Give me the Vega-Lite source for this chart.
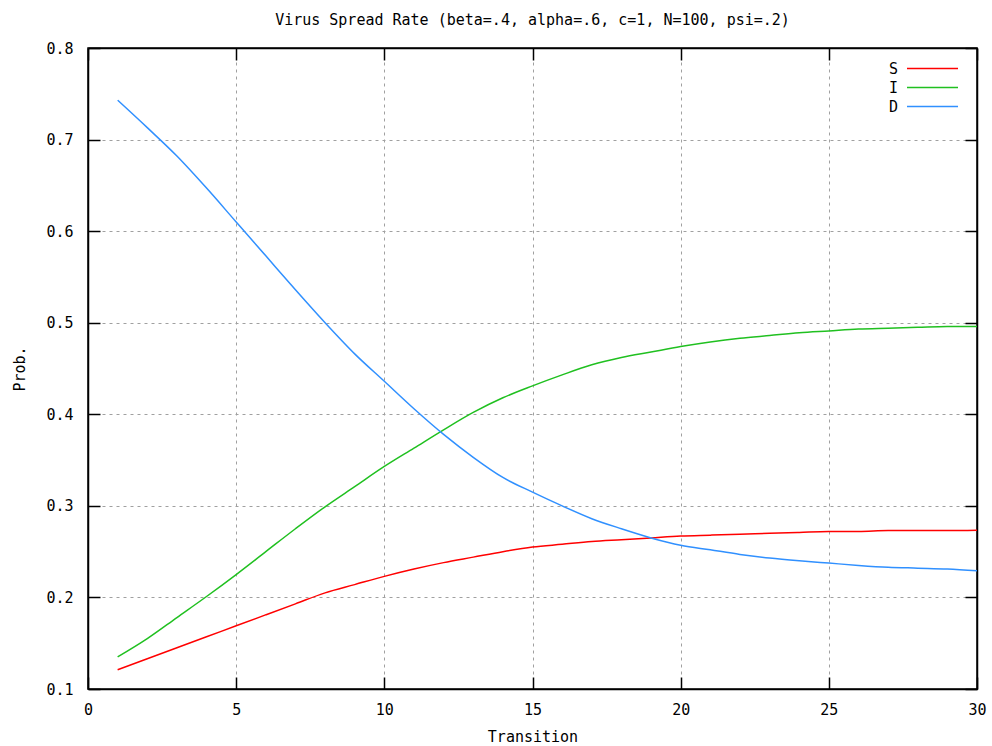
{
  "$schema": "https://vega.github.io/schema/vega-lite/v6.json",
  "width": 889,
  "height": 641,
  "autosize": {"type": "none"},
  "padding": {"left": 88, "top": 48, "right": 15, "bottom": 57},
  "background": "white",
  "title": {
    "text": "Virus Spread Rate (beta=.4, alpha=.6, c=1, N=100, psi=.2)",
    "font": "DejaVu Sans Mono",
    "fontSize": 15,
    "fontWeight": "normal",
    "color": "black",
    "anchor": "middle",
    "offset": 13
  },
  "config": {
    "view": {"stroke": "black", "strokeWidth": 1.5},
    "font": "DejaVu Sans Mono",
    "axis": {
      "labelFont": "DejaVu Sans Mono",
      "labelFontSize": 15,
      "labelColor": "black",
      "titleFont": "DejaVu Sans Mono",
      "titleFontSize": 15,
      "titleFontWeight": "normal",
      "titleColor": "black",
      "domainColor": "black",
      "domainWidth": 1.5,
      "tickColor": "black",
      "tickWidth": 1.5,
      "tickSize": -12,
      "gridColor": "#a0a0a0",
      "gridDash": [3, 4],
      "gridWidth": 1,
      "gridOpacity": 1
    }
  },
  "data": {
    "values": [
      {"t": 1, "series": "S", "p": 0.121}, {"t": 2, "series": "S", "p": 0.133}, {"t": 3, "series": "S", "p": 0.145}, {"t": 4, "series": "S", "p": 0.157}, {"t": 5, "series": "S", "p": 0.169},
      {"t": 6, "series": "S", "p": 0.181}, {"t": 7, "series": "S", "p": 0.193}, {"t": 8, "series": "S", "p": 0.205}, {"t": 9, "series": "S", "p": 0.214}, {"t": 10, "series": "S", "p": 0.223},
      {"t": 11, "series": "S", "p": 0.231}, {"t": 12, "series": "S", "p": 0.238}, {"t": 13, "series": "S", "p": 0.244}, {"t": 14, "series": "S", "p": 0.25}, {"t": 15, "series": "S", "p": 0.255},
      {"t": 16, "series": "S", "p": 0.258}, {"t": 17, "series": "S", "p": 0.261}, {"t": 18, "series": "S", "p": 0.263}, {"t": 19, "series": "S", "p": 0.265}, {"t": 20, "series": "S", "p": 0.267},
      {"t": 21, "series": "S", "p": 0.268}, {"t": 22, "series": "S", "p": 0.269}, {"t": 23, "series": "S", "p": 0.27}, {"t": 24, "series": "S", "p": 0.271}, {"t": 25, "series": "S", "p": 0.272},
      {"t": 26, "series": "S", "p": 0.272}, {"t": 27, "series": "S", "p": 0.273}, {"t": 28, "series": "S", "p": 0.273}, {"t": 29, "series": "S", "p": 0.273}, {"t": 30, "series": "S", "p": 0.2735},
      {"t": 1, "series": "I", "p": 0.135}, {"t": 2, "series": "I", "p": 0.155}, {"t": 3, "series": "I", "p": 0.178}, {"t": 4, "series": "I", "p": 0.201}, {"t": 5, "series": "I", "p": 0.225},
      {"t": 6, "series": "I", "p": 0.25}, {"t": 7, "series": "I", "p": 0.275}, {"t": 8, "series": "I", "p": 0.299}, {"t": 9, "series": "I", "p": 0.321}, {"t": 10, "series": "I", "p": 0.343},
      {"t": 11, "series": "I", "p": 0.363}, {"t": 12, "series": "I", "p": 0.383}, {"t": 13, "series": "I", "p": 0.402}, {"t": 14, "series": "I", "p": 0.418}, {"t": 15, "series": "I", "p": 0.431},
      {"t": 16, "series": "I", "p": 0.443}, {"t": 17, "series": "I", "p": 0.454}, {"t": 18, "series": "I", "p": 0.462}, {"t": 19, "series": "I", "p": 0.468}, {"t": 20, "series": "I", "p": 0.474},
      {"t": 21, "series": "I", "p": 0.479}, {"t": 22, "series": "I", "p": 0.483}, {"t": 23, "series": "I", "p": 0.486}, {"t": 24, "series": "I", "p": 0.489}, {"t": 25, "series": "I", "p": 0.491},
      {"t": 26, "series": "I", "p": 0.493}, {"t": 27, "series": "I", "p": 0.494}, {"t": 28, "series": "I", "p": 0.495}, {"t": 29, "series": "I", "p": 0.496}, {"t": 30, "series": "I", "p": 0.496},
      {"t": 1, "series": "D", "p": 0.743}, {"t": 2, "series": "D", "p": 0.713}, {"t": 3, "series": "D", "p": 0.682}, {"t": 4, "series": "D", "p": 0.647}, {"t": 5, "series": "D", "p": 0.61},
      {"t": 6, "series": "D", "p": 0.573}, {"t": 7, "series": "D", "p": 0.536}, {"t": 8, "series": "D", "p": 0.50}, {"t": 9, "series": "D", "p": 0.466}, {"t": 10, "series": "D", "p": 0.436},
      {"t": 11, "series": "D", "p": 0.406}, {"t": 12, "series": "D", "p": 0.378}, {"t": 13, "series": "D", "p": 0.353}, {"t": 14, "series": "D", "p": 0.331}, {"t": 15, "series": "D", "p": 0.315},
      {"t": 16, "series": "D", "p": 0.30}, {"t": 17, "series": "D", "p": 0.286}, {"t": 18, "series": "D", "p": 0.275}, {"t": 19, "series": "D", "p": 0.265}, {"t": 20, "series": "D", "p": 0.257},
      {"t": 21, "series": "D", "p": 0.252}, {"t": 22, "series": "D", "p": 0.247}, {"t": 23, "series": "D", "p": 0.243}, {"t": 24, "series": "D", "p": 0.24}, {"t": 25, "series": "D", "p": 0.2375},
      {"t": 26, "series": "D", "p": 0.235}, {"t": 27, "series": "D", "p": 0.233}, {"t": 28, "series": "D", "p": 0.232}, {"t": 29, "series": "D", "p": 0.231}, {"t": 30, "series": "D", "p": 0.229}
    ]
  },
  "layer": [
    {
      "mark": {"type": "line", "strokeWidth": 1.5, "interpolate": "monotone"},
      "encoding": {
        "x": {
          "field": "t", "type": "quantitative",
          "scale": {"domain": [0, 30], "nice": false, "zero": false},
          "axis": {"orient": "bottom", "title": "Transition", "values": [0, 5, 10, 15, 20, 25, 30], "labelPadding": 25, "titlePadding": 12, "grid": true, "labelFlush": false}
        },
        "y": {
          "field": "p", "type": "quantitative",
          "scale": {"domain": [0.1, 0.8], "nice": false, "zero": false},
          "axis": {"orient": "left", "title": "Prob.", "values": [0.1, 0.2, 0.3, 0.4, 0.5, 0.6, 0.7, 0.8], "format": ".1f", "labelPadding": 27, "titlePadding": 18, "grid": true, "labelFlush": false}
        },
        "color": {
          "field": "series", "type": "nominal",
          "scale": {"domain": ["S", "I", "D"], "range": ["#ff0000", "#20c020", "#3090ff"]},
          "legend": {
            "title": null,
            "orient": "none",
            "legendX": 835,
            "legendY": 11,
            "padding": 0,
            "symbolType": "M-3,0H3",
            "symbolSize": 289,
            "symbolStrokeWidth": 1.5,
            "labelFont": "DejaVu Sans Mono",
            "labelFontSize": 15,
            "labelColor": "black",
            "labelAlign": "right",
            "labelOffset": -44,
            "rowPadding": 1
          }
        }
      }
    },
    {
      "mark": {"type": "line", "strokeOpacity": 0},
      "encoding": {
        "x": {
          "field": "t", "type": "quantitative",
          "scale": {"domain": [0, 30], "nice": false, "zero": false},
          "axis": {"orient": "top", "title": null, "values": [0, 5, 10, 15, 20, 25, 30], "labels": false, "grid": false}
        },
        "y": {
          "field": "p", "type": "quantitative",
          "scale": {"domain": [0.1, 0.8], "nice": false, "zero": false},
          "axis": {"orient": "right", "title": null, "values": [0.1, 0.2, 0.3, 0.4, 0.5, 0.6, 0.7, 0.8], "labels": false, "grid": false}
        },
        "detail": {"field": "series"}
      }
    }
  ],
  "resolve": {"axis": {"x": "independent", "y": "independent"}}
}
